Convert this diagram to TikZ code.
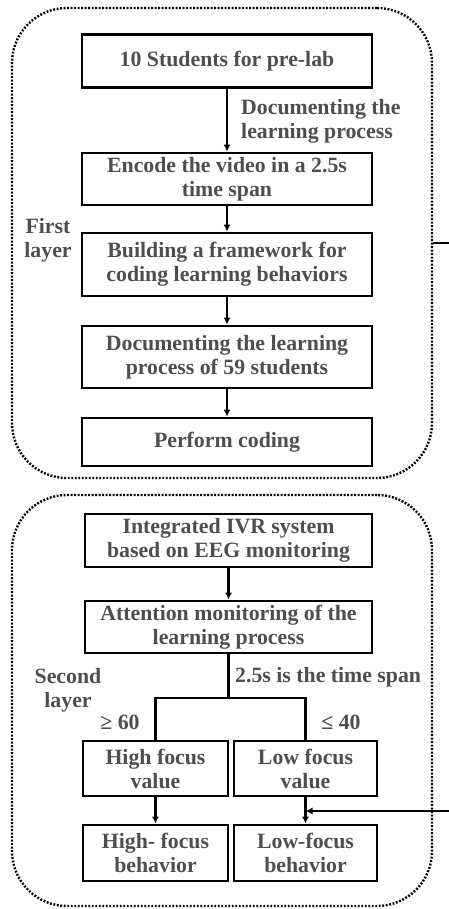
\documentclass[tikz,border=0pt]{standalone}
\usepackage{fontspec}
\setmainfont{Liberation Serif}
\usetikzlibrary{arrows.meta}
\definecolor{txtgrey}{RGB}{78,78,78}
\begin{document}
\begin{tikzpicture}[x=1pt,y=-1pt,
  font=\fontsize{21.8}{24}\selectfont\bfseries,
  stepbox/.style={draw=black,line width=2.8pt,rectangle,align=center,
    text=txtgrey,inner sep=0pt},
  layerbox/.style={draw=black,line width=2.4pt,dash pattern=on 1.9pt off 1.6pt,
    rounded corners=55pt,rectangle,inner sep=0pt},
  note/.style={text=txtgrey,inner sep=0pt},
  flow/.style={line width=2.2pt,-{Latex[length=7pt,width=7pt]}},
  link/.style={line width=2.2pt}]
\useasboundingbox (0,0) rectangle (449,909);

% two dotted containers
\node[layerbox,minimum width=420pt,minimum height=470pt] (layerA) at (222,243) {};
\node[layerbox,minimum width=420pt,minimum height=411pt] (layerB) at (222,700.5) {};

% first layer
\node[stepbox,minimum width=290pt,minimum height=53pt] (b1) at (227,61) {10 Students for pre-lab};
\node[stepbox,minimum width=290pt,minimum height=52pt] (b2) at (227,179) {Encode the video in a 2.5s\\time span};
\node[stepbox,minimum width=290pt,minimum height=63pt] (b3) at (227,264.5) {Building a framework for\\coding learning behaviors};
\node[stepbox,minimum width=290pt,minimum height=62pt] (b4) at (227,357) {Documenting the learning\\process of 59 students};
\node[stepbox,minimum width=290pt,minimum height=48pt] (b5) at (227,442) {Perform coding};

\node[note,anchor=west,align=left] (docl) at (241,121) {Documenting the\\learning process};
\node[note,align=center] (lay1) at (48,240) {First\\layer};

\draw[flow] (b1) -- (b2);
\draw[flow] (b2) -- (b3);
\draw[flow] (b3) -- (b4);
\draw[flow] (b4) -- (b5);

% second layer
\node[stepbox,minimum width=287pt,minimum height=53pt] (b6) at (228.5,540.5) {Integrated IVR system\\based on EEG monitoring};
\node[stepbox,minimum width=287pt,minimum height=52pt] (b7) at (228.5,627) {Attention monitoring of the\\learning process};
\node[stepbox,minimum width=145pt,minimum height=55pt] (b8) at (155.5,768.5) {High focus\\value};
\node[stepbox,minimum width=143pt,minimum height=55pt] (b9) at (305.5,768.5) {Low focus\\value};
\node[stepbox,minimum width=145pt,minimum height=56pt] (b10) at (155.5,853) {High- focus\\behavior};
\node[stepbox,minimum width=143pt,minimum height=56pt] (b11) at (305.5,853) {Low-focus\\behavior};

\node[note,anchor=west] (span) at (235,677) {2.5s is the time span};
\node[note,align=center] (lay2) at (68,690) {Second\\layer};
\node[note] (hi) at (120,722) {≥ 60};
\node[note] (lo) at (341,722) {≤ 40};

\coordinate (split) at (228.5,698);
\draw[flow] (b6) -- (b7);
\draw[link] (b7.south) -- (split);
\draw[link] (b8.north) |- (split) -| (b9.north);
\draw[flow] (b8) -- (b10);
\draw[flow] (b9) -- (b11);

% links leaving the right edge
\coordinate (outA) at (449,243);
\coordinate (inB) at (449,811);
\draw[link] (layerA.east) -- (outA);
\draw[flow] (inB) -- (b9.south |- inB);
\end{tikzpicture}
\end{document}
